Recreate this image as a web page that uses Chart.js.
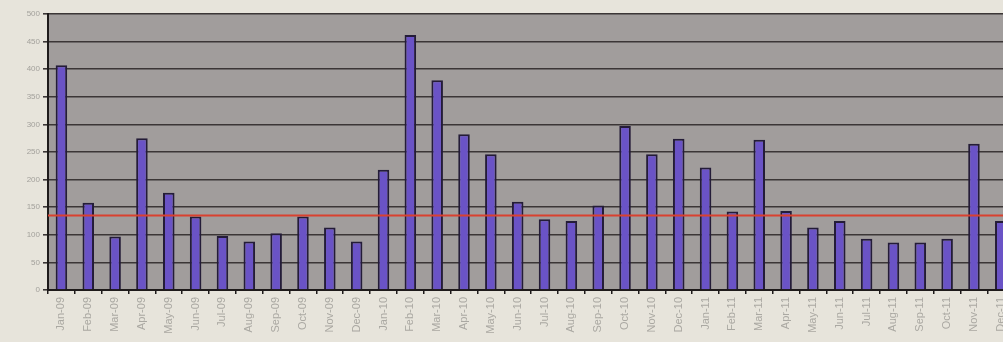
<!DOCTYPE html>
<html>
<head>
<meta charset="utf-8">
<script src="https://cdn.jsdelivr.net/npm/chart.js@4/dist/chart.umd.min.js"></script>
<style>
  html, body { margin: 0; padding: 0; background: #e7e4db; overflow: hidden; }
  #wrap { width: 1003px; height: 342px; overflow: hidden; }
  canvas { display: block; }
</style>
</head>
<body>
<div id="wrap"><canvas id="c" width="1017" height="342"></canvas></div>
<script>
// Monthly counts, Jan 2009 – Dec 2011
const categories = [
  "Jan-09","Feb-09","Mar-09","Apr-09","May-09","Jun-09","Jul-09","Aug-09","Sep-09","Oct-09","Nov-09","Dec-09",
  "Jan-10","Feb-10","Mar-10","Apr-10","May-10","Jun-10","Jul-10","Aug-10","Sep-10","Oct-10","Nov-10","Dec-10",
  "Jan-11","Feb-11","Mar-11","Apr-11","May-11","Jun-11","Jul-11","Aug-11","Sep-11","Oct-11","Nov-11","Dec-11"
];
const counts = [
  407, 158, 97, 275, 176, 133, 98, 88, 103, 133, 113, 88,
  218, 462, 380, 282, 246, 160, 128, 125, 153, 297, 246, 274,
  222, 142, 272, 143, 113, 125, 93, 86, 86, 93, 265, 125
];
const referenceLevel = 135;
const yTicks = [0, 50, 100, 150, 200, 250, 300, 350, 400, 450, 500];

// Grey plot-area fill
const plotBackground = {
  id: 'plotBackground',
  beforeDraw(chart) {
    const { ctx, chartArea: a } = chart;
    ctx.save();
    ctx.fillStyle = '#a19d9c';
    ctx.fillRect(a.left, a.top, a.right - a.left, a.bottom - a.top);
    ctx.restore();
  }
};

// Horizontal red reference line across the plot
const levelLine = {
  id: 'levelLine',
  afterDatasetsDraw(chart) {
    const { ctx, chartArea: a, scales } = chart;
    const y = scales.y.getPixelForValue(referenceLevel);
    ctx.save();
    ctx.strokeStyle = '#d9412f';
    ctx.lineWidth = 2;
    ctx.beginPath();
    ctx.moveTo(a.left, y);
    ctx.lineTo(a.right, y);
    ctx.stroke();
    ctx.restore();
  }
};

new Chart(document.getElementById('c'), {
  type: 'bar',
  data: {
    labels: categories,
    datasets: [{
      data: counts,
      backgroundColor: '#6a53c6',
      borderColor: '#241c38',
      borderWidth: 2,
      barPercentage: 0.43,
      categoryPercentage: 1.0
    }]
  },
  options: {
    responsive: false,
    devicePixelRatio: 1,
    animation: false,
    layout: { padding: { top: 14, left: 0, right: 0, bottom: 0 } },
    plugins: { legend: { display: false }, tooltip: { enabled: false } },
    scales: {
      x: {
        afterFit(scale) { scale.height = 52; },
        grid: {
          offset: true,
          drawOnChartArea: false,
          drawTicks: true,
          tickLength: 4,
          color: '#1e1a1a',
          lineWidth: 1.5
        },
        border: { display: true, color: '#1e1a1a', width: 2 },
        ticks: {
          autoSkip: false,
          maxRotation: 90,
          minRotation: 90,
          padding: 3,
          color: '#aaa8a2',
          font: { family: 'Liberation Sans', size: 11 }
        }
      },
      y: {
        min: 0,
        max: 500,
        afterFit(scale) { scale.width = 48; },
        afterBuildTicks(scale) { scale.ticks = yTicks.map(v => ({ value: v })); },
        grid: {
          color: '#3b3636',
          lineWidth: 1.6,
          drawTicks: true,
          tickLength: 5
        },
        border: { display: true, color: '#1e1a1a', width: 2 },
        ticks: {
          padding: 3,
          color: '#a3a19c',
          font: { family: 'Liberation Sans', size: 8 }
        }
      }
    }
  },
  plugins: [plotBackground, levelLine]
});
</script>
</body>
</html>
